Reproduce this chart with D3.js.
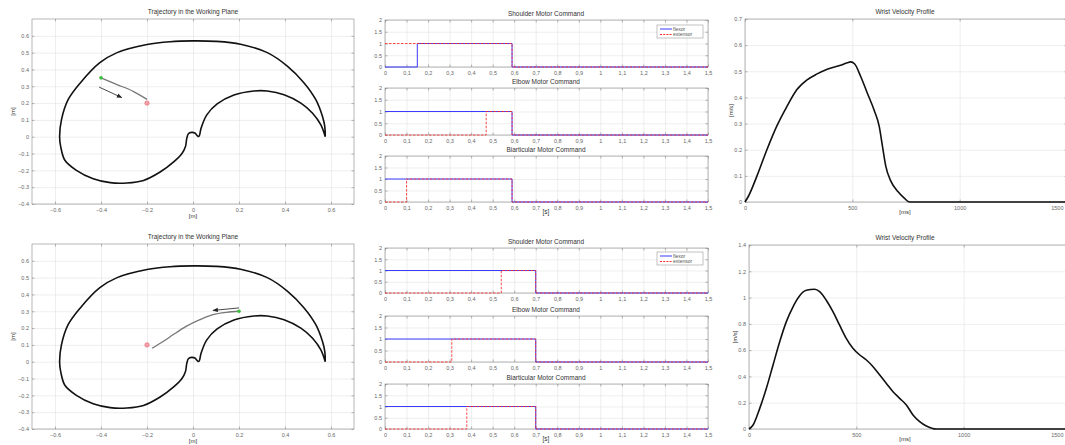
<!DOCTYPE html>
<html>
<head>
<meta charset="utf-8">
<script src="https://cdn.jsdelivr.net/npm/d3@7"></script>
<style>
  body { margin: 0; background: #fff; }
  svg { display: block; font-family: "Liberation Sans", Arial, sans-serif; }
  .grid line { stroke: #e2e2e2; stroke-width: 0.6; }
  .grid path { display: none; }
  .ax path { display: none; }
  .ax line { stroke: #888; stroke-width: 0.6; }
  .ax text { fill: #666; font-size: 5.5px; }
</style>
</head>
<body>
<svg id="fig" width="1065" height="445"></svg>
<script>
// ---- data ----
var trajTicksX = [-0.6, -0.4, -0.2, 0, 0.2, 0.4, 0.6];
var trajTicksY = [-0.4, -0.3, -0.2, -0.1, 0, 0.1, 0.2, 0.3, 0.4, 0.5, 0.6];

// workspace boundary [x, y] in m
var boundary = [
	[0.575, 0], [0.573, 0.06], [0.563, 0.12], [0.534, 0.22], [0.483, 0.32], [0.41, 0.42],
	[0.323, 0.5], [0.207, 0.55], [0.1, 0.567], [0, 0.57], [-0.1, 0.565], [-0.2, 0.548],
	[-0.33, 0.5], [-0.405, 0.44], [-0.49, 0.32], [-0.543, 0.22], [-0.572, 0.1], [-0.58, 0],
	[-0.575, -0.06], [-0.557, -0.14], [-0.507, -0.2], [-0.434, -0.25], [-0.36, -0.273],
	[-0.288, -0.275], [-0.215, -0.26], [-0.143, -0.21], [-0.084, -0.15], [-0.048, -0.1],
	[-0.033, -0.06], [-0.027, -0.01], [-0.02, 0.018], [-0.006, 0.026], [0.008, 0.022],
	[0.016, 0.01], [0.022, 0.002], [0.027, 0.004], [0.035, 0.05], [0.06, 0.13],
	[0.105, 0.195], [0.178, 0.248], [0.265, 0.272], [0.323, 0.272], [0.396, 0.25],
	[0.469, 0.2], [0.52, 0.14], [0.556, 0.07], [0.575, 0]
];

var path1 = [[-0.4, 0.35], [-0.33, 0.31], [-0.26, 0.27], [-0.2, 0.222]];
var start1 = [-0.4, 0.35], target1 = [-0.2, 0.2];
var arrow1 = [[-0.408, 0.295], [-0.31, 0.233]];

var path2 = [[0.2, 0.3], [0.146, 0.294], [0.087, 0.28], [0.03, 0.25], [-0.03, 0.21],
	[-0.087, 0.16], [-0.13, 0.12], [-0.178, 0.08]];
var start2 = [0.2, 0.3], target2 = [-0.2, 0.1];
var arrow2 = [[0.2, 0.32], [0.087, 0.305]];

var cmdTitles = ["Shoulder Motor Command", "Elbow Motor Command", "Biarticular Motor Command"];
var cmdTicksX = [0, 0.1, 0.2, 0.3, 0.4, 0.5, 0.6, 0.7, 0.8, 0.9, 1, 1.1, 1.2, 1.3, 1.4, 1.5];
var cmdTickLabels = ["0", "0,1", "0,2", "0,3", "0,4", "0,5", "0,6", "0,7", "0,8", "0,9",
	"1", "1,1", "1,2", "1,3", "1,4", "1,5"];
var cmdTicksY = [0, 0.5, 1, 1.5, 2];
// [on, off] in s
var flexorOn1 = [[0.15, 0.59], [0, 0.59], [0, 0.59]];
var extensorOn1 = [[0, 0.59], [0.47, 0.59], [0.1, 0.59]];
var flexorOn2 = [[0, 0.7], [0, 0.7], [0, 0.7]];
var extensorOn2 = [[0.54, 0.7], [0.31, 0.7], [0.38, 0.7]];

var velTicksX = [0, 500, 1000, 1500];
var velTicksY1 = [0, 0.1, 0.2, 0.3, 0.4, 0.5, 0.6, 0.7];
var velTicksY2 = [0, 0.2, 0.4, 0.6, 0.8, 1, 1.2, 1.4];
var velT1 = [0, 16, 55, 102, 148, 195, 242, 289, 336, 383, 445, 477, 492, 511, 539, 570,
	602, 625, 641, 656, 680, 711, 742, 766, 1500];
var velV1 = [0, 0.022, 0.098, 0.2, 0.29, 0.365, 0.43, 0.467, 0.49, 0.508, 0.523, 0.533,
	0.536, 0.528, 0.48, 0.416, 0.35, 0.29, 0.21, 0.136, 0.079, 0.041, 0.015, 0, 0];
var velT2 = [0, 19, 50, 81, 112, 143, 174, 205, 236, 267, 306, 329, 360, 391, 422, 453,
	484, 516, 547, 578, 609, 640, 671, 702, 733, 764, 795, 826, 873, 1500];
var velV2 = [0, 0.03, 0.157, 0.31, 0.487, 0.664, 0.817, 0.93, 1.014, 1.055, 1.063, 1.045,
	0.98, 0.893, 0.79, 0.69, 0.614, 0.563, 0.525, 0.474, 0.41, 0.347, 0.284, 0.233,
	0.183, 0.107, 0.056, 0.023, 0, 0];

var svg = d3.select('#fig');
var pageW = +svg.attr('width');

var defs = svg.append('defs');
defs.append('marker')
	.attr('id', 'ahead')
	.attr('viewBox', '0 0 10 10')
	.attr('refX', 9).attr('refY', 5)
	.attr('markerWidth', 6).attr('markerHeight', 6)
	.attr('orient', 'auto')
	.append('path')
	.attr('d', 'M0,1 L10,5 L0,9 Z')
	.attr('fill', '#222');

// axes frame, MATLAB style: grid, box, inward ticks
function frame(x, y, xt, yt, xfmt, yfmt) {
	var g = svg.append('g');
	var x0 = x.range()[0], x1 = x.range()[1];
	var y0 = y.range()[1], y1 = y.range()[0];
	g.append('g').attr('class', 'grid')
		.attr('transform', 'translate(0,' + y1 + ')')
		.call(d3.axisBottom(x).tickValues(xt).tickSize(-(y1 - y0)).tickFormat(''));
	g.append('g').attr('class', 'grid')
		.attr('transform', 'translate(' + x0 + ',0)')
		.call(d3.axisLeft(y).tickValues(yt).tickSize(-(x1 - x0)).tickFormat(''));
	g.append('rect')
		.attr('x', x0).attr('y', y0)
		.attr('width', x1 - x0).attr('height', y1 - y0)
		.attr('fill', 'none').attr('stroke', '#999').attr('stroke-width', 0.7);
	var bx = g.append('g').attr('class', 'ax')
		.attr('transform', 'translate(0,' + y1 + ')')
		.call(d3.axisBottom(x).tickValues(xt).tickSize(-2.5).tickPadding(4).tickFormat(xfmt));
	// keep labels that would run past the page edge inside it
	bx.selectAll('.tick').each(function(d) {
		if (x(d) > pageW - 8) {
			d3.select(this).select('text')
				.attr('text-anchor', 'end')
				.attr('x', pageW - 2 - x(d));
		}
	});
	g.append('g').attr('class', 'ax')
		.attr('transform', 'translate(' + x0 + ',0)')
		.call(d3.axisLeft(y).tickValues(yt).tickSize(-2.5).tickPadding(3).tickFormat(yfmt));
	g.append('g').attr('class', 'ax')
		.attr('transform', 'translate(0,' + y0 + ')')
		.call(d3.axisTop(x).tickValues(xt).tickSize(-2.5).tickFormat(''));
	g.append('g').attr('class', 'ax')
		.attr('transform', 'translate(' + x1 + ',0)')
		.call(d3.axisRight(y).tickValues(yt).tickSize(-2.5).tickFormat(''));
	return g;
}

function label(x, y, txt, size, rot) {
	var t = svg.append('text')
		.attr('x', x).attr('y', y)
		.attr('text-anchor', 'middle')
		.attr('font-size', size)
		.attr('fill', '#333')
		.text(txt);
	if (rot) t.attr('transform', 'rotate(-90,' + x + ',' + y + ')');
	return t;
}

var fmt1 = function(d) { return d === 0 ? '0' : d3.format('.1f')(d); };
var fmtVel = function(d) { return d === 0 ? '0' : String(+d.toFixed(1)); };

function trajectory(top, bottom, path, start, target, arrow) {
	var x = d3.scaleLinear().domain([-0.7, 0.7]).range([32, 354]);
	var y = d3.scaleLinear().domain([-0.4, 0.7]).range([bottom, top]);
	frame(x, y, trajTicksX, trajTicksY, fmt1, fmt1);
	var line = d3.line().x(function(d) { return x(d[0]); }).y(function(d) { return y(d[1]); });
	svg.append('path')
		.attr('d', line.curve(d3.curveCatmullRom)(boundary))
		.attr('fill', 'none').attr('stroke', '#111').attr('stroke-width', 1.6);
	svg.append('path')
		.attr('d', line.curve(d3.curveCatmullRom)(path))
		.attr('fill', 'none').attr('stroke', '#777').attr('stroke-width', 1.3);
	svg.append('path')
		.attr('d', line.curve(d3.curveLinear)(arrow))
		.attr('fill', 'none').attr('stroke', '#333').attr('stroke-width', 0.9)
		.attr('marker-end', 'url(#ahead)');
	svg.append('circle')
		.attr('cx', x(start[0])).attr('cy', y(start[1])).attr('r', 1.8)
		.attr('fill', '#3cbf3c');
	svg.append('circle')
		.attr('cx', x(target[0])).attr('cy', y(target[1])).attr('r', 2.2)
		.attr('fill', '#f4a0a8').attr('stroke', '#e0606c').attr('stroke-width', 0.6);
	label(193, top - 5, 'Trajectory in the Working Plane', 6.5);
	label(193, bottom + 14, '[m]', 6);
	label(15, (top + bottom) / 2, '[m]', 6, true);
}

function steps(on) {
	if (on[0] === 0) return [[0, 1], [on[1], 0], [1.5, 0]];
	return [[0, 0], [on[0], 1], [on[1], 0], [1.5, 0]];
}

function commands(boxes, flexor, extensor, legendY) {
	var x = d3.scaleLinear().domain([0, 1.5]).range([385, 708]);
	boxes.forEach(function(b, i) {
		var y = d3.scaleLinear().domain([0, 2]).range([b[1], b[0]]);
		frame(x, y, cmdTicksX, cmdTicksY, function(d, k) { return cmdTickLabels[k]; },
			function(d) { return String(d); });
		var line = d3.line().curve(d3.curveStepAfter)
			.x(function(d) { return x(d[0]); }).y(function(d) { return y(d[1]); });
		svg.append('path').attr('d', line(steps(flexor[i])))
			.attr('fill', 'none').attr('stroke', '#3b3bff').attr('stroke-width', 1);
		svg.append('path').attr('d', line(steps(extensor[i])))
			.attr('fill', 'none').attr('stroke', '#ff2a2a').attr('stroke-width', 1)
			.attr('stroke-dasharray', '2.5,1.5').attr('opacity', 0.85);
		label(546, b[0] - 4, cmdTitles[i], 6.5);
	});
	// legend
	var lg = svg.append('g').attr('transform', 'translate(657,' + legendY + ')');
	lg.append('rect').attr('width', 46).attr('height', 13)
		.attr('fill', '#fff').attr('stroke', '#999').attr('stroke-width', 0.6);
	[['flexor', '#3b3bff', null], ['extensor', '#ff2a2a', '2,1.2']].forEach(function(e, k) {
		var yy = 4 + k * 5.5;
		lg.append('line').attr('x1', 3).attr('x2', 15).attr('y1', yy).attr('y2', yy)
			.attr('stroke', e[1]).attr('stroke-width', 1).attr('stroke-dasharray', e[2]);
		lg.append('text').attr('x', 16).attr('y', yy + 1.8)
			.attr('font-size', 5).attr('fill', '#555').text(e[0]);
	});
	label(546, boxes[2][1] + 12, '[s]', 6.5);
}

function velocity(x0, x1, top, bottom, ymax, yt, t, v) {
	var x = d3.scaleLinear().domain([0, 1500]).range([x0, x1]);
	var y = d3.scaleLinear().domain([0, ymax]).range([bottom, top]);
	frame(x, y, velTicksX, yt, function(d) { return String(d); }, fmtVel);
	var line = d3.line().curve(d3.curveMonotoneX)
		.x(function(d, i) { return x(t[i]); }).y(function(d) { return y(d); });
	svg.append('path').attr('d', line(v))
		.attr('fill', 'none').attr('stroke', '#111').attr('stroke-width', 1.6);
	label(905, top - 5, 'Wrist Velocity Profile', 6.5);
	label(905, bottom + 12, '[ms]', 6);
	label(x0 - 12, (top + bottom) / 2, '[m/s]', 6, true);
}

// top row
trajectory(19, 204, path1, start1, target1, arrow1);
commands([[20, 67], [88, 135], [156, 202]], flexorOn1, extensorOn1, 25);
velocity(745, 1067, 19, 202, 0.7, velTicksY1, velT1, velV1);

// bottom row
trajectory(244, 429, path2, start2, target2, arrow2);
commands([[248, 293], [316, 362], [384, 429]], flexorOn2, extensorOn2, 252);
velocity(749, 1071, 245, 429, 1.4, velTicksY2, velT2, velV2);
</script>
</body>
</html>
